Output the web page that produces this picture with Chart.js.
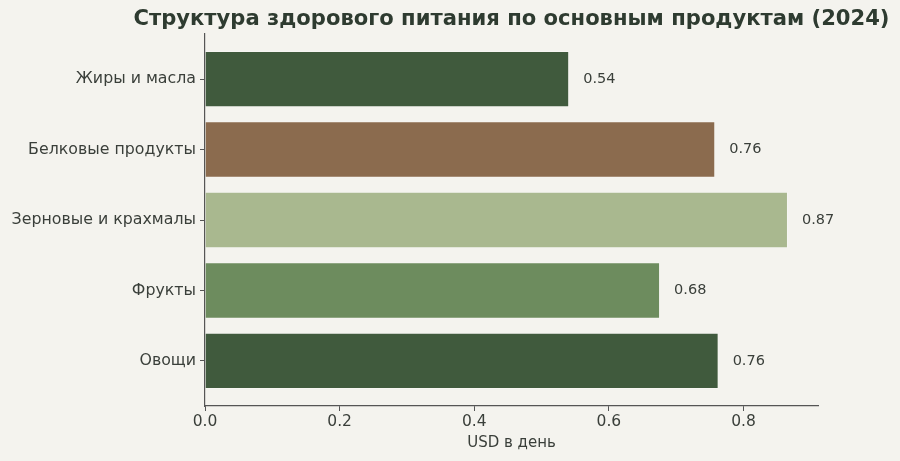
<!DOCTYPE html>
<html>
<head>
<meta charset="utf-8">
<script src="https://cdn.jsdelivr.net/npm/chart.js@4"></script>
<style>
  html, body { margin: 0; padding: 0; background: #f4f3ee; }
  #wrap { width: 900px; height: 461px; }
</style>
</head>
<body>
<div id="wrap"><canvas id="chart"></canvas></div>
<script>
// chart data
let categories = ["Жиры и масла", "Белковые продукты", "Зерновые и крахмалы", "Фрукты", "Овощи"];
let costs = [0.541, 0.758, 0.866, 0.676, 0.763];
let barColors = ["#405a3d", "#8b6b4e", "#a9b88f", "#6d8c5e", "#405a3d"];
let xTicks = [0.0, 0.2, 0.4, 0.6, 0.8];

let titleText = "Структура здорового питания по основным продуктам (2024)";
let textColor = "#3a3f3a";
let axisColor = "#555";

//value labels next to each bar
let valueLabels = {
  id: "valueLabels",
  afterDatasetsDraw(chart) {
    let ctx = chart.ctx;
    let meta = chart.getDatasetMeta(0);
    ctx.save();
    ctx.font = "14.5px 'DejaVu Sans'";
    ctx.fillStyle = textColor;
    ctx.textAlign = "left";
    ctx.textBaseline = "middle";
    meta.data.forEach((bar, i) => {
      ctx.fillText(costs[i].toFixed(2), bar.x + 14, bar.y);
    });
    ctx.restore();
  },
};

//title centred over the plot area
let plotTitle = {
  id: "plotTitle",
  afterDraw(chart) {
    let ctx = chart.ctx;
    let area = chart.chartArea;
    ctx.save();
    ctx.font = "bold 21.1px 'DejaVu Sans'";
    ctx.fillStyle = "#2e3b30";
    ctx.textAlign = "center";
    ctx.textBaseline = "middle";
    ctx.fillText(titleText, (area.left + area.right) / 2, 19.5);
    ctx.restore();
  },
};

let points = costs.map((v, i) => ({ x: v, y: i }));

new Chart(document.getElementById("chart"), {
  type: "bar",
  data: {
    datasets: [
      {
        data: points,
        backgroundColor: barColors,
        borderColor: "rgba(255,255,255,0.25)",
        borderWidth: 1,
        categoryPercentage: 0.8,
        barPercentage: 1.0,
      },
    ],
  },
  plugins: [valueLabels, plotTitle],
  options: {
    indexAxis: "y",
    responsive: true,
    maintainAspectRatio: false,
    animation: false,
    layout: { padding: { top: 34, right: 82, left: 0, bottom: 9 } },
    plugins: {
      legend: { display: false },
      tooltip: { enabled: false },
      title: { display: false },
    },
    scales: {
      x: {
        type: "linear",
        min: 0,
        max: 0.9106,
        afterFit: (s) => { s.height = 46; },
        afterBuildTicks: (s) => { s.ticks = xTicks.map((v) => ({ value: v })); },
        ticks: {
          color: textColor,
          font: { family: "DejaVu Sans", size: 15.5 },
          padding: 2,
          callback: (v) => Number(v).toFixed(1),
        },
        grid: { display: true, drawOnChartArea: false, drawTicks: true, tickLength: 5, color: axisColor },
        border: { display: true, color: axisColor, width: 1.2 },
        title: {
          display: true,
          text: "USD в день",
          color: textColor,
          font: { family: "DejaVu Sans", size: 15 },
          padding: { top: 0, bottom: 0 },
        },
      },
      y: {
        type: "linear",
        reverse: true,
        offset: false,
        min: -0.64,
        max: 4.64,
        afterFit: (s) => { s.width = 205; },
        afterBuildTicks: (s) => { s.ticks = categories.map((c, i) => ({ value: i })); },
        ticks: {
          color: textColor,
          font: { family: "DejaVu Sans", size: 15.8 },
          padding: 4,
          callback: (v) => categories[v] ?? "",
        },
        grid: { display: true, offset: false, drawOnChartArea: false, drawTicks: true, tickLength: 5, color: axisColor },
        border: { display: true, color: axisColor, width: 1.2 },
      },
    },
  },
});
</script>
</body>
</html>
